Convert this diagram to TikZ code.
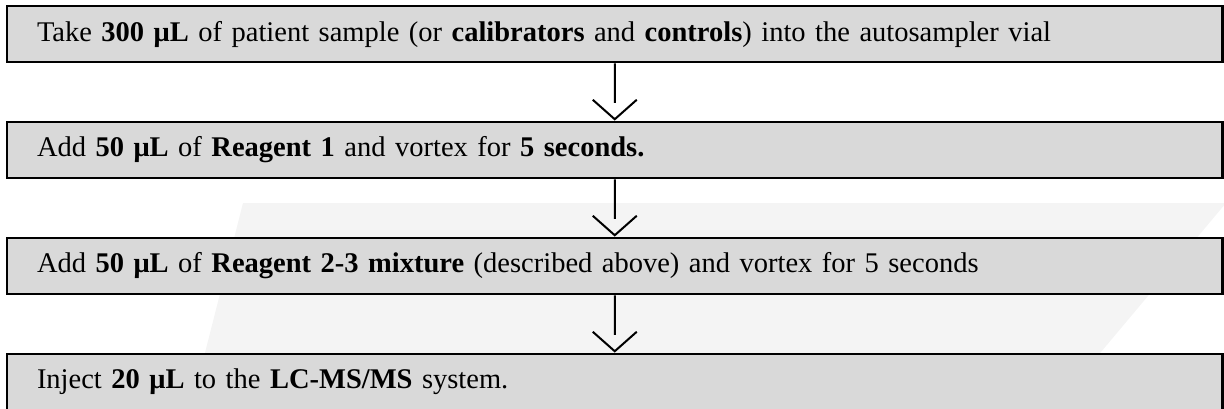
\documentclass[tikz,border=0pt]{standalone}
\usepackage{fontspec}
\setmainfont{Liberation Serif}
\usetikzlibrary{positioning}

\definecolor{boxgray}{HTML}{D9D9D9}
\definecolor{markgray}{HTML}{F4F4F4}

\begin{document}
\begin{tikzpicture}[
      x = 1pt, y = 1pt,
      node distance = 57.5pt,
      stepbox/.style = {
        rectangle, draw = black, line width = 2.5pt,
        fill = boxgray,
        text width = 1155.5pt, inner xsep = 30pt,
        minimum height = 56pt, align = left,
        font = \fontsize{28.5pt}{34pt}\selectfont
      },
      flow/.style = {
        black, line width = 2pt, miter limit = 4,
        to path = {(\tikztostart) -- ([yshift=18pt]\tikztotarget)
          ([xshift=-22pt, yshift=21pt]\tikztotarget) -- ([yshift=1.5pt]\tikztotarget)
          -- ([xshift=22pt, yshift=21pt]\tikztotarget)}
      },
    ]

    \useasboundingbox (0,0) rectangle (1224,-408);
    \clip (0,0) rectangle (1224,-408);

    % faint mark behind the steps
    \fill[markgray] (243,-203) -- (1226,-203) -- (1054,-408) -- (191,-408) -- cycle;

    \node[stepbox] (s1) at (614.75,-34)
      {Take \textbf{300 μL} of patient sample (or \textbf{calibrators} and \textbf{controls}) into the autosampler vial};
    \node[stepbox, below = of s1] (s2)
      {Add \textbf{50 μL} of \textbf{Reagent 1} and vortex for \textbf{5 seconds.}};
    \node[stepbox, below = of s2] (s3)
      {Add \textbf{50 μL} of \textbf{Reagent 2-3 mixture} (described above) and vortex for 5 seconds};
    \node[stepbox, below = of s3] (s4)
      {Inject \textbf{20 μL} to the \textbf{LC-MS/MS} system.};

    \foreach \a/\b in {s1/s2, s2/s3, s3/s4} {
      \draw[flow] (\a.south) to (\b.north);
    }
  \end{tikzpicture}
\end{document}
